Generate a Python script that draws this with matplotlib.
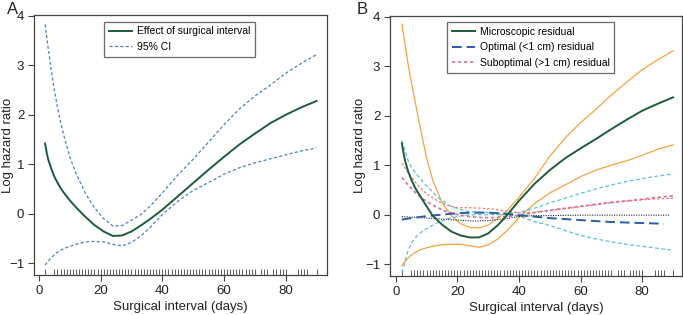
import matplotlib
matplotlib.use("Agg")
import matplotlib.pyplot as plt
from matplotlib.lines import Line2D

plt.rcParams['font.family'] = ['Liberation Sans', 'DejaVu Sans']

# ---------------- data ----------------
# rug: observed surgical intervals (days)
rug_days = [2] + list(range(5, 71)) + [72, 73, 74, 76, 77, 78, 79, 80, 84, 85, 86, 87, 90]

# Panel A
a_days = [2, 2.5, 3, 4, 5, 6, 7, 8, 10, 12, 15, 18, 21, 24, 27, 30, 33, 36, 40, 45, 50, 55, 60, 65, 70, 75, 80, 85, 90]
a_effect = [1.42, 1.24, 1.10, 0.91, 0.75, 0.63, 0.52, 0.43, 0.27, 0.13, -0.06, -0.23, -0.36, -0.45, -0.44, -0.36,
            -0.24, -0.11, 0.08, 0.35, 0.62, 0.89, 1.15, 1.40, 1.62, 1.83, 2.00, 2.15, 2.28]
a_upper = [3.83, 3.58, 3.35, 2.90, 2.50, 2.16, 1.86, 1.60, 1.15, 0.82, 0.42, 0.12, -0.10, -0.25, -0.24, -0.13,
           -0.02, 0.15, 0.42, 0.78, 1.10, 1.45, 1.80, 2.12, 2.38, 2.60, 2.84, 3.04, 3.22]
a_lower = [-1.04, -1.00, -0.96, -0.89, -0.83, -0.78, -0.74, -0.71, -0.66, -0.62, -0.57, -0.56, -0.57, -0.62, -0.65,
           -0.58, -0.45, -0.28, -0.02, 0.25, 0.47, 0.63, 0.80, 0.93, 1.03, 1.11, 1.19, 1.27, 1.33]

# Panel B
b_days = [2, 2.5, 3, 4, 5, 6, 7, 8, 10, 12, 15, 18, 21, 24, 27, 30, 33, 36, 40, 45, 50, 55, 60, 65, 70, 75, 80, 85, 90]
b_micro = [1.44, 1.26, 1.10, 0.88, 0.72, 0.58, 0.47, 0.37, 0.17, -0.02, -0.20, -0.34, -0.42, -0.46, -0.46, -0.38,
           -0.22, -0.02, 0.28, 0.62, 0.90, 1.14, 1.34, 1.53, 1.73, 1.92, 2.10, 2.24, 2.37]
b_micro_up = [3.85, 3.65, 3.45, 3.05, 2.70, 2.38, 2.06, 1.75, 1.15, 0.70, 0.25, -0.02, -0.18, -0.26, -0.27, -0.21,
              -0.08, 0.07, 0.35, 0.73, 1.18, 1.55, 1.86, 2.13, 2.42, 2.68, 2.93, 3.13, 3.31]
b_micro_lo = [-1.04, -0.99, -0.95, -0.88, -0.82, -0.78, -0.74, -0.71, -0.67, -0.64, -0.61, -0.60, -0.60, -0.63,
              -0.66, -0.61, -0.50, -0.33, -0.06, 0.22, 0.44, 0.60, 0.77, 0.90, 1.00, 1.09, 1.20, 1.32, 1.41]

b_opt_days = [2, 5, 10, 15, 20, 25, 30, 35, 40, 45, 50, 55, 60, 65, 70, 75, 80, 85, 87]
b_opt = [-0.10, -0.07, -0.03, 0.00, 0.03, 0.04, 0.04, 0.02, -0.01, -0.04, -0.07, -0.09, -0.11, -0.13, -0.15, -0.16,
         -0.17, -0.18, -0.19]

b_ci_days = [2, 3, 4, 5, 7, 9, 11, 14, 17, 20, 23, 27, 31, 35, 40, 45, 50, 55, 60, 65, 70, 75, 80, 85, 90]
b_opt_up = [1.50, 1.30, 1.10, 0.97, 0.80, 0.65, 0.52, 0.33, 0.20, 0.12, 0.07, 0.05, 0.04, 0.03, 0.04, 0.13, 0.24,
            0.33, 0.43, 0.52, 0.60, 0.67, 0.73, 0.78, 0.82]
b_opt_lo = [-1.17, -0.95, -0.73, -0.58, -0.42, -0.32, -0.25, -0.15, -0.08, -0.04, -0.01, 0.00, 0.00, 0.00, -0.03,
            -0.14, -0.22, -0.32, -0.42, -0.49, -0.55, -0.60, -0.64, -0.68, -0.72]

b_sub_days = [2, 4, 6, 8, 10, 13, 16, 20, 24, 28, 32, 36, 40, 45, 50, 55, 60, 65, 70, 75, 80, 85, 90]
b_sub = [0.75, 0.60, 0.47, 0.36, 0.27, 0.16, 0.07, 0.00, -0.04, -0.06, -0.06, -0.04, -0.01, 0.04, 0.09, 0.13, 0.17,
         0.21, 0.25, 0.28, 0.31, 0.35, 0.38]
b_sub_up = [1.04, 0.85, 0.68, 0.54, 0.42, 0.30, 0.20, 0.14, 0.14, 0.13, 0.11, 0.07, 0.04, 0.05, 0.08, 0.12, 0.16,
            0.20, 0.24, 0.27, 0.30, 0.32, 0.33]

b_ref_days = [2, 10, 15, 20, 25, 30, 35, 40, 45, 50, 60, 70, 80, 89]
b_ref = [-0.04, -0.07, -0.09, -0.11, -0.13, -0.12, -0.09, -0.04, -0.02, -0.02, -0.01, -0.01, -0.01, -0.01]

# ---------------- styling ----------------
GREEN = '#1d5c3a'
CI_BLUE = '#4f80c0'
ORANGE = '#f4a442'
CYAN = '#5cc0dc'
DBLUE = '#2a5ea6'
PINK = '#d9709c'
SALMON = '#e8826e'
SPINE = '#444444'

W, H = 683, 315
fig = plt.figure(figsize=(W / 100, H / 100), dpi=100)

def make_ax(x0, x1, y0, y1, xlim, ylab_x):
    ax = fig.add_axes([x0 / W, 1 - y1 / H, (x1 - x0) / W, (y1 - y0) / H])
    ax.set_xlim(*xlim)
    ax.set_ylim(-1.24, 4.02)
    ax.set_xticks([0, 20, 40, 60, 80])
    ax.set_yticks([-1, 0, 1, 2, 3, 4])
    for s in ax.spines.values():
        s.set_color(SPINE)
        s.set_linewidth(0.9)
    ax.tick_params(axis='both', direction='out', length=4, width=0.8, color=SPINE,
                   labelsize=9.5, pad=3, labelcolor='#222222')
    ax.tick_params(axis='x', top=False)
    ax.tick_params(axis='y', right=False)
    ax.set_xlabel('Surgical interval (days)', fontsize=9.5, color='#222222', labelpad=3)
    ax.set_ylabel('Log hazard ratio', fontsize=9.5, color='#222222')
    ax.yaxis.set_label_coords((ylab_x - x0) / (x1 - x0), 0.5)
    ax.vlines(rug_days, 0, 0.022, transform=ax.get_xaxis_transform(), color=SPINE, lw=0.6)
    return ax

# Panel A
axA = make_ax(34, 327, 15, 275, (-1.6, 93.4), 14)
axA.plot(a_days, a_effect, color=GREEN, lw=1.4)
axA.plot(a_days, a_upper, color=CI_BLUE, lw=0.9, ls=(0, (2.5, 1.8)))
axA.plot(a_days, a_lower, color=CI_BLUE, lw=0.9, ls=(0, (2.5, 1.8)))
hA = [Line2D([], [], color=GREEN, lw=1.4), Line2D([], [], color=CI_BLUE, lw=0.9, ls=(0, (2.5, 1.8)))]
legA = axA.legend(hA, ['Effect of surgical interval', '95% CI'], loc='upper left',
                  bbox_to_anchor=(0.239, 0.975), fontsize=7.5, frameon=True, fancybox=False,
                  handlelength=2.2, handletextpad=0.5, borderpad=0.45, labelspacing=0.55, borderaxespad=0)
legA.get_frame().set_edgecolor(SPINE)
legA.get_frame().set_linewidth(0.9)
fig.text(7 / W, 1 - 10 / H, 'A', fontsize=12, va='center', ha='left', color='#222222')

# Panel B
axB = make_ax(390, 682, 15.7, 276, (-1.85, 92.9), 366)
axB.plot(b_days, b_micro_up, color=ORANGE, lw=0.9)
axB.plot(b_days, b_micro_lo, color=ORANGE, lw=0.9)
axB.plot(b_ci_days, b_opt_up, color=CYAN, lw=0.9, ls=(0, (3, 2)))
axB.plot(b_ci_days, b_opt_lo, color=CYAN, lw=0.9, ls=(0, (3, 2)))
axB.plot(b_sub_days, b_sub_up, color=SALMON, lw=0.9, ls=(0, (2, 1.6)))
axB.plot(b_sub_days, b_sub, color=PINK, lw=1.2, ls=(0, (2, 1.6)))
axB.plot(b_ref_days, b_ref, color='#222222', lw=0.8, ls=(0, (1, 1.2)))
axB.plot(b_opt_days, b_opt, color=DBLUE, lw=1.4, ls=(0, (5, 2.5)))
axB.plot(b_days, b_micro, color=GREEN, lw=1.4)
hB = [Line2D([], [], color=GREEN, lw=1.4),
      Line2D([], [], color=DBLUE, lw=1.4, ls=(0, (5, 2.5))),
      Line2D([], [], color=PINK, lw=1.2, ls=(0, (2, 1.6)))]
legB = axB.legend(hB, ['Microscopic residual', 'Optimal (<1 cm) residual', 'Suboptimal (>1 cm) residual'],
                  loc='upper left', bbox_to_anchor=(0.195, 0.976), fontsize=7.5, frameon=True,
                  fancybox=False, handlelength=2.2, handletextpad=0.5, borderpad=0.45,
                  labelspacing=0.55, borderaxespad=0)
legB.get_frame().set_edgecolor(SPINE)
legB.get_frame().set_linewidth(0.9)
fig.text(357 / W, 1 - 10 / H, 'B', fontsize=12, va='center', ha='left', color='#222222')

fig.savefig('out.png', dpi=100)
